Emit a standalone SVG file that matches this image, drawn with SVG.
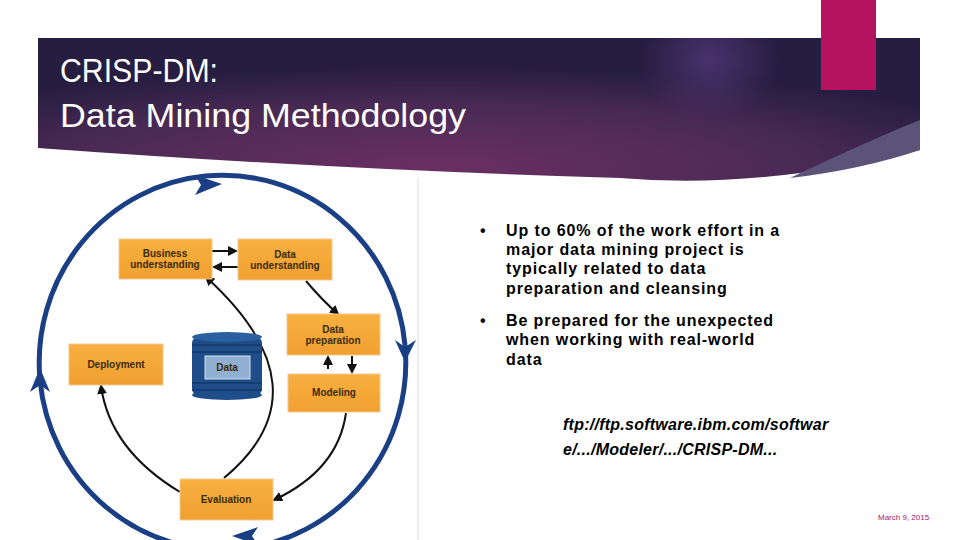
<svg xmlns="http://www.w3.org/2000/svg" width="960" height="540" viewBox="0 0 960 540">
<defs>
<radialGradient id="bg" cx="0.45" cy="0.9" r="0.7">
<stop offset="0" stop-color="#6a2f62"/><stop offset="0.6" stop-color="#4a2a55"/><stop offset="1" stop-color="#261d40"/>
</radialGradient>
<radialGradient id="glow" cx="0.5" cy="0.5" r="0.5"><stop offset="0" stop-color="#5a3a80" stop-opacity="0.7"/><stop offset="1" stop-color="#5a3a80" stop-opacity="0"/></radialGradient>
<clipPath id="bc"><path d="M38,38 H920 V150 Q760,190 620,178 Q340,170 38,148 Z"/></clipPath>
<linearGradient id="box" x1="0" y1="0" x2="0" y2="1"><stop offset="0" stop-color="#f8b040"/><stop offset="1" stop-color="#f0a030"/></linearGradient>
<marker id="ah" viewBox="0 0 10 10" refX="8" refY="5" markerWidth="5" markerHeight="5" orient="auto"><path d="M0,0 L10,5 L0,10 z" fill="#111"/></marker>
<style>
.b{fill:url(#box);stroke:#f4c890;stroke-width:1}
.bt{font-family:"Liberation Sans",Arial,sans-serif;font-weight:bold;font-size:10px;fill:#3a2a10;text-anchor:middle}
.c{fill:none;stroke:#1a3f85;stroke-width:5}
.k{fill:none;stroke:#111;stroke-width:2;marker-end:url(#ah)}
.tx{font-family:"Liberation Sans",Arial,sans-serif;font-size:16px;font-weight:bold;fill:#000;letter-spacing:0.9px}
.u{letter-spacing:0.25px;font-style:italic}
</style>
</defs>
<rect width="960" height="540" fill="#fff"/>
<g id="banner">
<path d="M38,38 H920 V150 Q760,190 620,178 Q340,170 38,148 Z" fill="url(#bg)"/>
<ellipse cx="710" cy="60" rx="70" ry="60" fill="url(#glow)" clip-path="url(#bc)"/>
<path d="M920,120 V150 Q860,170 790,178 Q870,140 920,120 Z" fill="#5c5478"/>
<text x="60" y="82" font-family="Liberation Sans,Arial,sans-serif" font-size="33" fill="#fff" textLength="158" lengthAdjust="spacingAndGlyphs">CRISP-DM:</text>
<text x="60" y="127" font-family="Liberation Sans,Arial,sans-serif" font-size="33" fill="#fff" textLength="406" lengthAdjust="spacingAndGlyphs">Data Mining Methodology</text>
</g>
<rect id="accent" x="821" y="0" width="55" height="90" fill="#b5135f"/>
<g id="diagram">
<line x1="418" y1="178" x2="418" y2="540" stroke="#ddd" stroke-width="1"/>
<g id="cycle">
<path class="c" d="M405,345 A183,187 0 0 0 40,380"/>
<path class="c" d="M40,380 A183,187 0 0 0 405,345"/>
<path d="M195,175 L222,184 L195,195 L201,185 Z" fill="#1a3f85"/>
<path d="M395,340 L405,362 L416,340 L405,347 Z" fill="#1a3f85"/>
<path d="M258,527 L232,536 L258,545 L252,536 Z" fill="#1a3f85"/>
<path d="M30,392 L40,368 L50,392 L40,385 Z" fill="#1a3f85"/>
</g>
<g id="connectors">
<line class="k" x1="212" y1="251" x2="236" y2="251"/>
<line class="k" x1="238" y1="267" x2="214" y2="267"/>
<path class="k" d="M306,281 Q322,300 338,314"/>
<line class="k" x1="328" y1="369" x2="328" y2="357"/>
<line class="k" x1="352" y1="356" x2="352" y2="372"/>
<path class="k" d="M346,413 Q338,470 274,500"/>
<path class="k" d="M224,478 Q330,390 206,277"/>
<path class="k" d="M180,492 Q110,450 101,386"/>
</g>
<g id="n-business"><rect class="b" x="119" y="239" width="93" height="40"/><text class="bt" x="165" y="257">Business</text><text class="bt" x="165" y="268">understanding</text></g>
<g id="n-dataund"><rect class="b" x="238" y="239" width="94" height="41"/><text class="bt" x="285" y="258">Data</text><text class="bt" x="285" y="269">understanding</text></g>
<g id="n-prep"><rect class="b" x="287" y="314" width="93" height="41"/><text class="bt" x="333" y="333">Data</text><text class="bt" x="333" y="344">preparation</text></g>
<g id="n-model"><rect class="b" x="288" y="374" width="92" height="38"/><text class="bt" x="334" y="396">Modeling</text></g>
<g id="n-deploy"><rect class="b" x="69" y="344" width="94" height="41"/><text class="bt" x="116" y="368">Deployment</text></g>
<g id="n-eval"><rect class="b" x="180" y="479" width="93" height="41"/><text class="bt" x="226" y="503">Evaluation</text></g>
<g id="n-data">
<rect x="192" y="337" width="70" height="58" rx="6" fill="#1f4d8a"/>
<ellipse cx="227" cy="337" rx="35" ry="5" fill="#2a5fa0"/>
<ellipse cx="227" cy="395" rx="35" ry="5" fill="#1f4d8a"/>
<g stroke="#0e2e5a" stroke-width="1"><line x1="192" y1="345" x2="262" y2="345"/><line x1="192" y1="352" x2="262" y2="352"/><line x1="192" y1="383" x2="262" y2="383"/><line x1="192" y1="390" x2="262" y2="390"/></g>
<rect x="205" y="356" width="45" height="23" fill="#8fb0d0" stroke="#cfe0f0"/>
<text class="bt" x="227" y="371" fill="#1a2a40">Data</text>
</g>
</g>
<g id="text">
<text class="tx" x="480" y="236">•</text>
<text class="tx" x="506" y="236">Up to 60% of the work effort in a</text>
<text class="tx" x="506" y="255">major data mining project is</text>
<text class="tx" x="506" y="274">typically related to data</text>
<text class="tx" x="506" y="294">preparation and cleansing</text>
<text class="tx" x="480" y="326">•</text>
<text class="tx" x="506" y="326">Be prepared for the unexpected</text>
<text class="tx" x="506" y="345">when working with real-world</text>
<text class="tx" x="506" y="365">data</text>
<text class="tx u" x="563" y="430">ftp://ftp.software.ibm.com/softwar</text>
<text class="tx u" x="563" y="455">e/.../Modeler/.../CRISP-DM...</text>
<text x="878" y="520" font-family="Liberation Sans,Arial,sans-serif" font-size="8" fill="#b5135f">March 9, 2015</text>
</g>
</svg>
